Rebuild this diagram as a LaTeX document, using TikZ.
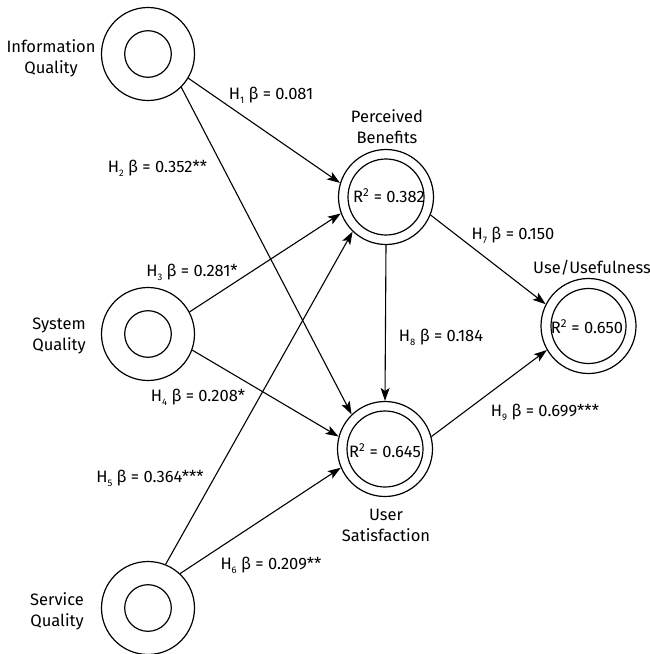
\documentclass[tikz,border=0pt]{standalone}
\usepackage{fontspec}
\setmainfont{Fira Sans}
\usetikzlibrary{arrows.meta}
\tikzset{
  ringout/.style={circle, draw, line width=1.2pt, inner sep=0pt},
  ringin/.style={circle, draw, line width=1.2pt, inner sep=0pt},
  arr/.style={line width=1.1pt, -{Stealth[length=13pt,width=9pt,inset=3pt]}},
  txt/.style={font=\fontsize{16.5}{21}\selectfont, align=center, inner sep=0pt},
}
\newcommand\hsub[1]{\raisebox{-0.45ex}{\fontsize{9.5}{9.5}\selectfont #1}}
\newcommand\hb[2]{H\hsub{#1} β = #2}
\begin{document}
\begin{tikzpicture}[x=1pt,y=-1pt]
\fill[white] (0,0) rectangle (650,654);
\useasboundingbox (0,0) rectangle (650,654);

% exogenous constructs
\node[ringout, minimum size=93pt] (iq) at (148,54) {};
\node[ringin, minimum size=46.6pt] (iqi) at (iq) {};
\node[ringout, minimum size=93pt] (sq) at (148,334) {};
\node[ringin, minimum size=46.6pt] (sqi) at (sq) {};
\node[ringout, minimum size=93pt] (svq) at (148,608) {};
\node[ringin, minimum size=46.6pt] (svqi) at (svq) {};

% endogenous constructs
\node[ringout, minimum size=95pt] (pb) at (386,197) {};
\node[ringin, minimum size=76pt] (pbi) at (pb) {};
\node[ringout, minimum size=95pt] (us) at (385,449) {};
\node[ringin, minimum size=76pt] (usi) at (us) {};
\node[ringout, minimum size=95pt] (uu) at (588.5,326) {};
\node[ringin, minimum size=75pt] (uui) at (uu) {};

% construct labels
\node[txt] (liq) at (51,58) {Information\\Quality};
\node[txt] (lsq) at (59,336) {System\\Quality};
\node[txt] (lsvq) at (57,611) {Service\\Quality};
\node[txt] (lpb) at (387,127) {Perceived\\Benefits};
\node[txt] (lus) at (386,525) {User\\Satisfaction};
\node[txt] (luu) at (592,268) {Use/Usefulness};

% R squared
\node[txt] (rpb) at (389,196) {R\textsuperscript{2} = 0.382};
\node[txt] (rus) at (385,451) {R\textsuperscript{2} = 0.645};
\node[txt] (ruu) at (587,327) {R\textsuperscript{2} = 0.650};

% paths
\draw[arr] (iq.-31) -- (pb.163);
\draw[arr] (iq.-45) -- (us.134);
\draw[arr] (sq.28) -- (pb.200);
\draw[arr] (sq.-20) -- (us.165);
\draw[arr] (svq.68) -- (pb.226);
\draw[arr] (svq.47) -- (us.203);
\draw[arr] (pb.-22) -- (uu.153);
\draw[arr] (pb.-90) -- (us.90);
\draw[arr] (us.15) -- (uu.210);

% path labels
\node[txt] (h1) at (271,95) {\hb{1}{0.081}};
\node[txt] (h2) at (157.5,168) {\hb{2}{0.352**}};
\node[txt] (h3) at (192,272) {\hb{3}{0.281*}};
\node[txt] (h4) at (198,397) {\hb{4}{0.208*}};
\node[txt] (h5) at (150,478) {\hb{5}{0.364***}};
\node[txt] (h6) at (271,565) {\hb{6}{0.209**}};
\node[txt] (h7) at (513,235) {\hb{7}{0.150}};
\node[txt] (h8) at (441,337) {\hb{8}{0.184}};
\node[txt] (h9) at (545,412) {\hb{9}{0.699***}};
\end{tikzpicture}
\end{document}
